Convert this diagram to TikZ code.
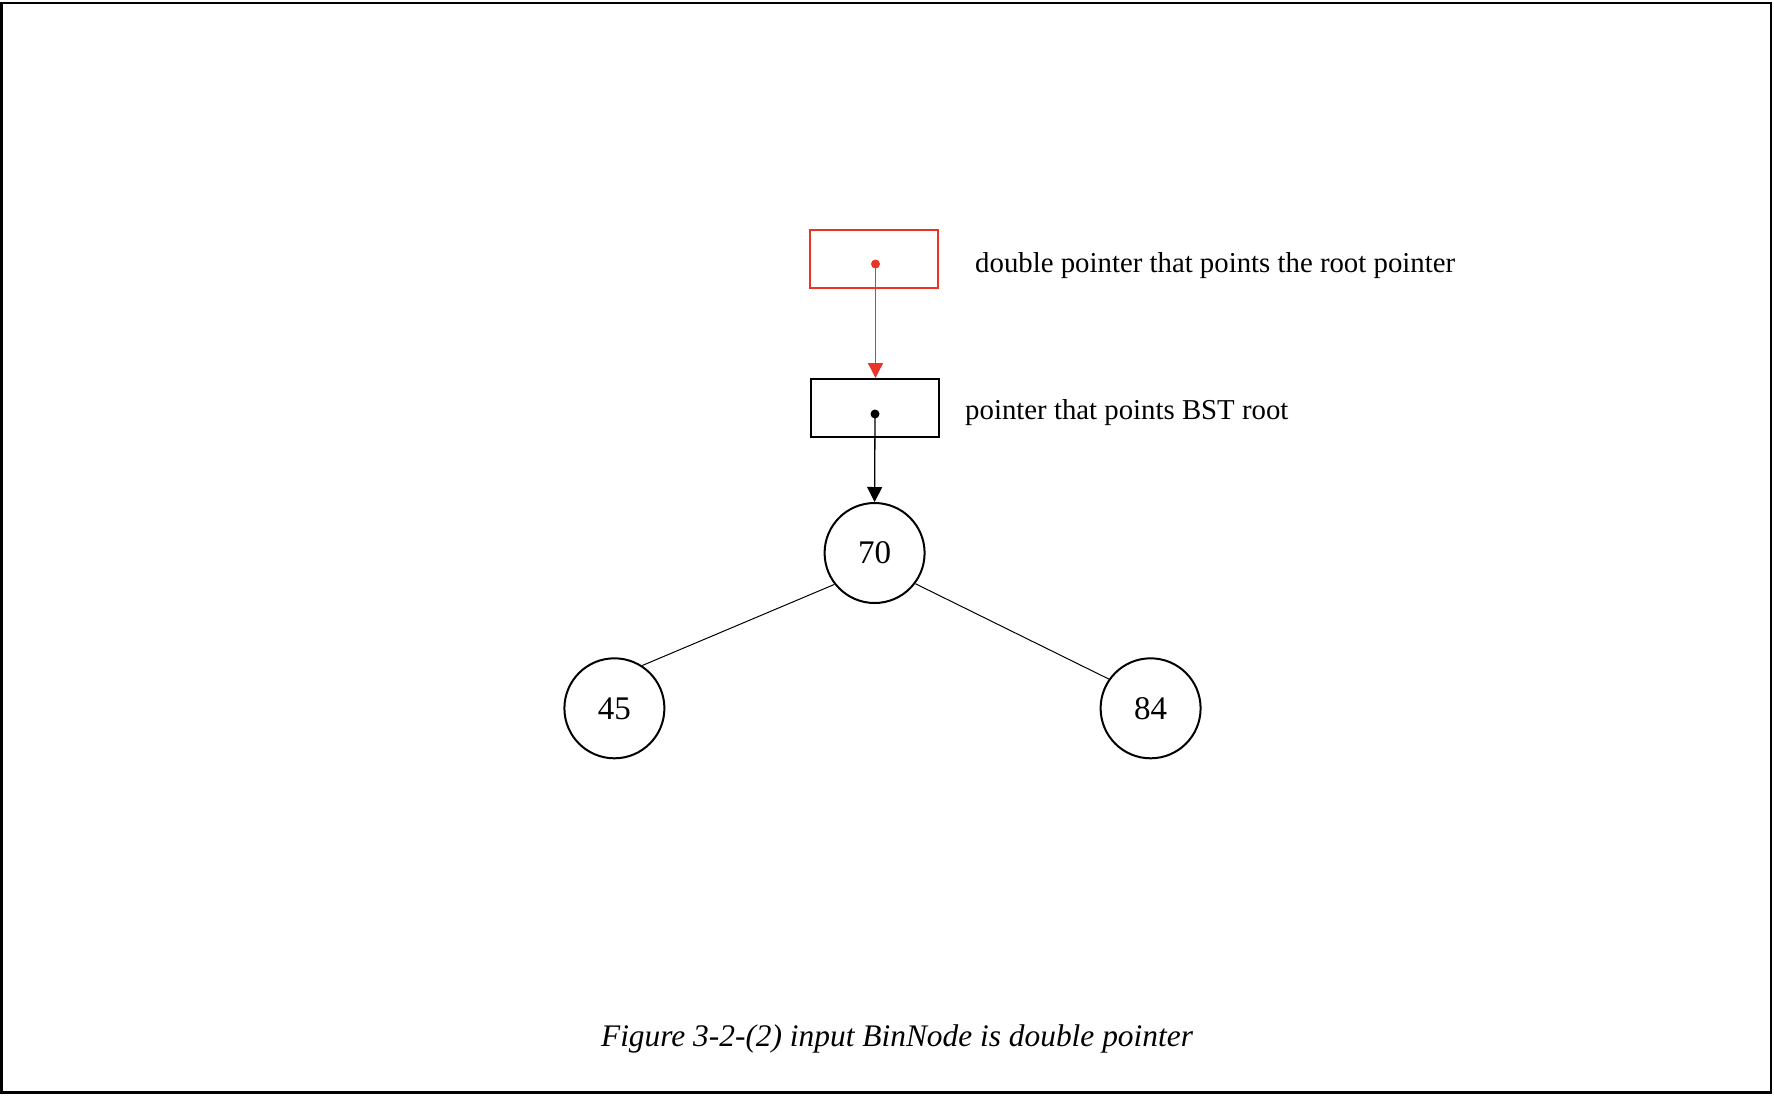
\documentclass[tikz,border=0pt]{standalone}
\usepackage{fontspec}
\setmainfont{Liberation Serif}
\usetikzlibrary{arrows.meta}
\definecolor{ptrred}{RGB}{236,52,38}
\begin{document}
\begin{tikzpicture}[x=1pt,y=-1pt,
  box/.style={draw,line width=2pt,minimum width=128pt,minimum height=58pt,inner sep=0pt},
  treenode/.style={draw,circle,line width=2pt,minimum size=100pt,inner sep=0pt,font=\fontsize{33}{38}\selectfont},
  lbl/.style={anchor=west,inner sep=0pt,font=\fontsize{28.8}{34}\selectfont},
  edge/.style={line width=1pt},
  ptr/.style={line width=1.3pt,-{Triangle[width=15pt,length=15pt]}}]
\useasboundingbox (0,0) rectangle (1774,1096);
\draw[line width=2.5pt] (1.5,3) rectangle (1771,1092.5);
% pointer boxes
\node[box,draw=ptrred] (rbox) at (874,259) {};
\node[box] (bbox) at (875,408) {};
\coordinate (rd) at (875.5,264);
\coordinate (bd) at (875,414);
\fill[ptrred] (rd) circle (4.5pt);
\fill (bd) circle (4.5pt);
% labels
\node[lbl] (l1) at (975,265.5) {double pointer that points the root pointer};
\node[lbl] (l2) at (965,412.5) {pointer that points BST root};
% tree
\node[treenode] (n70) at (874.6,553) {70};
\node[treenode] (n45) at (614.4,708.3) {45};
\node[treenode] (n84) at (1150.6,708.3) {84};
\draw[edge] (n70.218) -- (n45.57);
\draw[edge] (n70.323) -- (n84.145);
% arrows
\draw[ptr,draw=ptrred,fill=ptrred] (rd) -- (rd |- bbox.north);
\draw[ptr] (bd) -- (n70.north);
% caption
\node[inner sep=0pt,font=\fontsize{31.4}{37}\selectfont\itshape] (cap) at (897,1038.5) {Figure 3-2-(2) input BinNode is double pointer};
\end{tikzpicture}
\end{document}
